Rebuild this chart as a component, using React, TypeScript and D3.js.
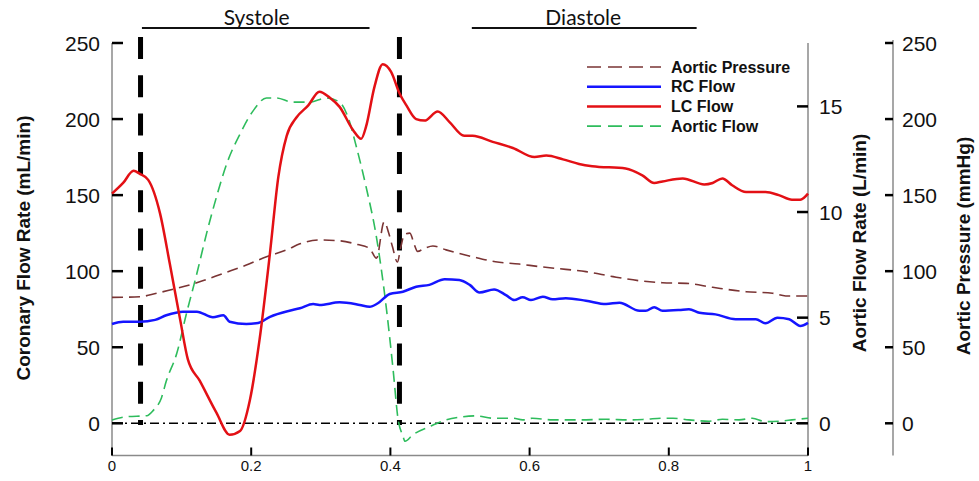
import React from "react";
import * as d3 from "d3";

// ---- data ----
const lcT = [0, 0.016, 0.031, 0.04, 0.052, 0.069, 0.083, 0.098, 0.109, 0.126, 0.15, 0.169, 0.184, 0.198, 0.212, 0.227, 0.239, 0.251, 0.265, 0.282, 0.298, 0.313, 0.327, 0.346, 0.358, 0.365, 0.377, 0.389, 0.401, 0.413, 0.423, 0.437, 0.449, 0.468, 0.485, 0.506, 0.518, 0.547, 0.576, 0.607, 0.624, 0.648, 0.671, 0.69, 0.738, 0.762, 0.779, 0.791, 0.82, 0.851, 0.863, 0.877, 0.891, 0.911, 0.939, 0.958, 0.977, 0.989, 1];
const lcV = [151, 158, 166, 164, 160, 138, 105, 68, 42, 28, 7, -7.5, -5, 15, 55, 112, 162, 189, 201, 209, 218, 214, 208, 193, 187, 195, 221, 236, 231, 217, 209, 200, 199, 205, 198, 189, 189, 185, 181, 175, 176, 173.5, 170.5, 169, 167.5, 163, 158, 159, 161, 157, 158, 161, 156.5, 152, 152, 150, 147, 147, 151];

const rcT = [0, 0.016, 0.04, 0.062, 0.078, 0.102, 0.122, 0.145, 0.16, 0.169, 0.193, 0.21, 0.227, 0.255, 0.27, 0.289, 0.298, 0.327, 0.356, 0.37, 0.382, 0.399, 0.418, 0.437, 0.456, 0.478, 0.499, 0.514, 0.528, 0.549, 0.566, 0.578, 0.59, 0.602, 0.619, 0.633, 0.652, 0.681, 0.71, 0.729, 0.758, 0.767, 0.779, 0.791, 0.815, 0.829, 0.844, 0.867, 0.896, 0.925, 0.939, 0.956, 0.973, 0.989, 1];
const rcV = [65.3, 66.8, 66.8, 68, 71, 73.4, 73.4, 69.7, 71, 66.8, 65.3, 66, 70, 74, 75.6, 78.4, 77.8, 79.5, 77.8, 76.6, 78.9, 85, 86.5, 89.8, 91, 94.7, 94.2, 91, 86, 88, 84.3, 81, 82.8, 81, 83.2, 81.5, 82.2, 80.6, 78.4, 79.3, 74, 74, 76.3, 74, 74.5, 75, 72.7, 71.6, 68.4, 68.4, 65.7, 69.4, 68.4, 64, 66];

const apT = [0, 0.04, 0.064, 0.093, 0.126, 0.16, 0.193, 0.222, 0.251, 0.27, 0.298, 0.327, 0.353, 0.37, 0.38, 0.391, 0.397, 0.403, 0.41, 0.415, 0.42, 0.428, 0.434, 0.439, 0.449, 0.461, 0.48, 0.518, 0.551, 0.585, 0.614, 0.652, 0.681, 0.72, 0.758, 0.791, 0.825, 0.863, 0.911, 0.949, 0.968, 1];
const apV = [82.8, 83.2, 85.5, 88.7, 93, 98.6, 104, 109.5, 114, 118, 120.5, 120, 117.5, 115, 108.5, 132.5, 126, 116, 106, 116, 124, 125, 118, 113, 115, 116.6, 114, 109.5, 106.2, 104.7, 103, 101.2, 99.7, 96.4, 93.7, 92.4, 92, 89.4, 86.5, 85.5, 83.7, 83.7];

const afT = [0, 0.021, 0.05, 0.059, 0.071, 0.078, 0.093, 0.107, 0.122, 0.136, 0.15, 0.165, 0.184, 0.203, 0.222, 0.236, 0.26, 0.284, 0.308, 0.327, 0.339, 0.351, 0.365, 0.38, 0.394, 0.404, 0.411, 0.418, 0.421, 0.432, 0.456, 0.48, 0.504, 0.523, 0.547, 0.576, 0.59, 0.604, 0.633, 0.671, 0.71, 0.743, 0.767, 0.791, 0.806, 0.829, 0.858, 0.877, 0.901, 0.92, 0.939, 0.958, 0.977, 1];
const afV = [0.16, 0.31, 0.36, 0.6, 1.2, 2.0, 3.3, 5.2, 7.1, 9, 10.7, 12.3, 13.7, 14.8, 15.4, 15.4, 15.2, 15.2, 15.4, 15.2, 14.5, 13.1, 11.2, 8.8, 5.5, 2.5, 0.2, -0.6, -0.85, -0.55, -0.16, 0.16, 0.31, 0.35, 0.24, 0.24, 0.16, 0.24, 0.16, 0.16, 0.19, 0.16, 0.19, 0.24, 0.24, 0.16, 0.1, 0.19, 0.16, 0.24, 0.08, 0.1, 0.16, 0.24];

const xTicks = [0, 0.2, 0.4, 0.6, 0.8, 1];
const leftTicks = [0, 50, 100, 150, 200, 250];
const flowTicks = [0, 5, 10, 15];
const pressTicks = [0, 50, 100, 150, 200, 250];
const phaseMarks = [0.041, 0.413];
const phaseLabels = ["Systole", "Diastole"];
const phaseSpans: [number, number][] = [[0.043, 0.37], [0.517, 0.84]];

const legendItems = [
  { name: "Aortic Pressure", color: "#7a3434", dash: "14,7", width: 1.6 },
  { name: "RC Flow", color: "#1515ff", dash: "", width: 2.5 },
  { name: "LC Flow", color: "#e31015", dash: "", width: 2.5 },
  { name: "Aortic Flow", color: "#2ebc5c", dash: "14,7", width: 1.6 },
];

export default function App() {
  const W = 979, H = 481;
  const x = d3.scaleLinear().domain([0, 1]).range([112, 808]);
  const yL = d3.scaleLinear().domain([0, 250]).range([423.3, 43]);
  const yF = d3.scaleLinear().domain([0, 18]).range([423.3, 43]);
  const yP = yL;
  const axisBottom = 455.5;

  const mk = (ts: number[], vs: number[], y: d3.ScaleLinear<number, number>) =>
    d3.line<number>().x((_, i) => x(ts[i])).y((v) => y(v)).curve(d3.curveMonotoneX)(vs) || "";

  const sans = "'Liberation Sans', Arial, sans-serif";

  return (
    <svg width={W} height={H} style={{ position: "absolute", left: 0, top: 0, background: "#fff" }} fontFamily={sans}>
      <rect width={W} height={H} fill="#fff" />
      {/* phase labels */}
      {phaseLabels.map((lab, i) => {
        const [a, b] = phaseSpans[i];
        return (
          <g key={lab}>
            <line x1={x(a)} x2={x(b)} y1={28} y2={28} stroke="#111" strokeWidth={1.8} />
            <text x={(x(a) + x(b)) / 2 + (i === 0 ? 1 : -1)} y={25} textAnchor="middle" fontFamily="Lato, 'Open Sans', sans-serif" fontSize={21} fill="#111">{lab}</text>
          </g>
        );
      })}

      {/* axes lines */}
      <line x1={112} x2={112} y1={43} y2={axisBottom} stroke="#8a8a8a" strokeWidth={1.5} />
      <line x1={808} x2={808} y1={43} y2={axisBottom} stroke="#8a8a8a" strokeWidth={1.5} />
      <line x1={893} x2={893} y1={40} y2={axisBottom} stroke="#8a8a8a" strokeWidth={1.5} />
      <line x1={112} x2={808} y1={axisBottom} y2={axisBottom} stroke="#8a8a8a" strokeWidth={1.5} />

      {/* left ticks */}
      {leftTicks.map((t) => (
        <g key={"l" + t}>
          <line x1={112} x2={123} y1={yL(t)} y2={yL(t)} stroke="#000" strokeWidth={2.5} />
          <text x={100} y={yL(t)} dy="0.36em" textAnchor="end" fontSize={21} fill="#111">{t}</text>
        </g>
      ))}
      {/* flow ticks */}
      {flowTicks.map((t) => (
        <g key={"f" + t}>
          <line x1={797} x2={808} y1={yF(t)} y2={yF(t)} stroke="#000" strokeWidth={2.5} />
          <text x={819} y={yF(t)} dy="0.36em" textAnchor="start" fontSize={21} fill="#111">{t}</text>
        </g>
      ))}
      {/* pressure ticks */}
      {pressTicks.map((t) => (
        <g key={"p" + t}>
          <line x1={885} x2={893} y1={yP(t)} y2={yP(t)} stroke="#000" strokeWidth={2.5} />
          <text x={902} y={yP(t)} dy="0.36em" textAnchor="start" fontSize={21} fill="#111">{t}</text>
        </g>
      ))}
      {/* x ticks */}
      {xTicks.map((t) => (
        <g key={"x" + t}>
          <line x1={x(t)} x2={x(t)} y1={axisBottom} y2={axisBottom - 8} stroke="#000" strokeWidth={2} />
          <text x={x(t)} y={471} textAnchor="middle" fontSize={15} fill="#111">{t}</text>
        </g>
      ))}

      {/* axis titles */}
      <text transform="translate(23,248) rotate(-90)" textAnchor="middle" dominantBaseline="central" fontSize={19} fontWeight="bold" fill="#111">Coronary Flow Rate (mL/min)</text>
      <text transform="translate(859,243) rotate(-90)" textAnchor="middle" dominantBaseline="central" fontSize={19} fontWeight="bold" fill="#111">Aortic Flow Rate (L/min)</text>
      <text transform="translate(963,246) rotate(-90)" textAnchor="middle" dominantBaseline="central" fontSize={19} fontWeight="bold" fill="#111">Aortic Pressure (mmHg)</text>

      {/* zero reference line */}
      <line x1={112} x2={808} y1={yL(0)} y2={yL(0)} stroke="#000" strokeWidth={1.4} strokeDasharray="9,4,2,4" />

      {/* phase marker lines */}
      {phaseMarks.map((m) => (
        <line key={"m" + m} x1={x(m)} x2={x(m)} y1={37} y2={425} stroke="#000" strokeWidth={5} strokeDasharray="22,16.3" />
      ))}

      {/* series */}
      <path d={mk(afT, afV, yF)} fill="none" stroke={legendItems[3].color} strokeWidth={1.6} strokeDasharray="11,6" />
      <path d={mk(apT, apV, yP)} fill="none" stroke={legendItems[0].color} strokeWidth={1.6} strokeDasharray="11,6" />
      <path d={mk(rcT, rcV, yL)} fill="none" stroke={legendItems[1].color} strokeWidth={2.5} />
      <path d={mk(lcT, lcV, yL)} fill="none" stroke={legendItems[2].color} strokeWidth={2.5} />

      {/* legend */}
      {legendItems.map((it, i) => {
        const yy = 67 + i * 19.7;
        return (
          <g key={it.name}>
            <line x1={587} x2={661} y1={yy} y2={yy} stroke={it.color} strokeWidth={it.width} strokeDasharray={it.dash || undefined} />
            <text x={671} y={yy} dy="0.36em" fontSize={16} fontWeight="bold" fill="#111">{it.name}</text>
          </g>
        );
      })}
    </svg>
  );
}
